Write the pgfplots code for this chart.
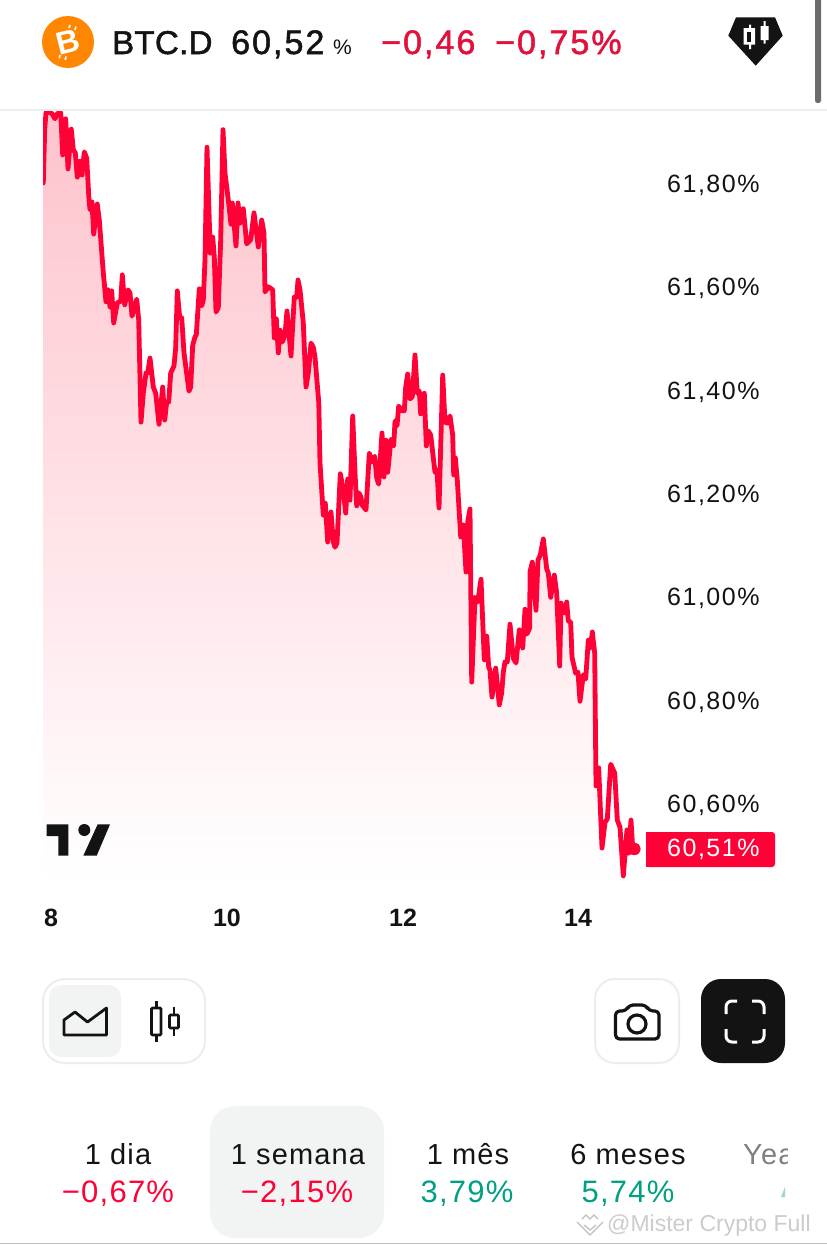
\documentclass[border=0pt]{standalone}
\usepackage{fontspec}
\usepackage{pgfplots}
\usepackage{pgfplotstable}
\pgfplotsset{compat=1.18}
\setmainfont{Liberation Sans}
\newfontfamily\tickfont[LetterSpace=6]{Liberation Sans}
\newfontfamily\bodyfont[LetterSpace=4]{Liberation Sans}
\newfontfamily\medfont[FakeBold=1.5,LetterSpace=1]{Liberation Sans}
\newfontfamily\numfont[FakeBold=1.5,LetterSpace=6]{Liberation Sans}
\newcommand\fs[1]{\fontsize{#1}{#1}\selectfont}
\definecolor{hot}{RGB}{255,0,55}
\definecolor{headred}{RGB}{226,16,60}
\definecolor{teal2}{RGB}{0,160,130}
\definecolor{soft}{RGB}{242,243,243}
\definecolor{edge}{RGB}{237,237,237}
\definecolor{ink}{RGB}{19,19,19}
\pgfplotstableread{
x y
43.3 61.801
44.7 61.904
46 61.937
50 61.937
52 61.935
55 61.925
57.3 61.935
60.7 61.937
62.7 61.855
65.7 61.925
68 61.828
71.3 61.905
73.3 61.865
75.3 61.859
77.3 61.812
80 61.843
82 61.816
84.3 61.861
86.7 61.849
89 61.768
90 61.749
92 61.764
93.7 61.702
97.3 61.760
99.3 61.729
103.3 61.627
106 61.571
108 61.594
110 61.561
111.7 61.592
113.7 61.530
117.3 61.569
120.7 61.572
122.3 61.623
124.7 61.565
128 61.594
130 61.588
132 61.543
136.7 61.576
138.7 61.536
141 61.338
143.3 61.394
146 61.433
147.7 61.433
150 61.462
153.3 61.406
155.7 61.394
159 61.334
162.7 61.406
164.7 61.342
166.7 61.377
168.7 61.377
170.7 61.433
174 61.447
175.7 61.483
177.3 61.592
179.7 61.540
181.7 61.540
184 61.472
189 61.398
190.7 61.406
192.7 61.487
195 61.503
196.3 61.507
199.3 61.596
201.7 61.563
203.3 61.574
205 61.652
207 61.870
210.3 61.665
212.7 61.696
214.3 61.658
216 61.551
218.3 61.559
220.7 61.691
223 61.904
225 61.820
228.3 61.768
231 61.721
232.3 61.762
236 61.679
238 61.762
240 61.723
243.3 61.751
246.7 61.683
250.7 61.691
254 61.743
258.3 61.677
261.7 61.729
264 61.704
265 61.590
268.3 61.600
272.7 61.594
274.3 61.501
276.3 61.538
278.3 61.472
280 61.516
282.3 61.493
285 61.507
287 61.553
291 61.466
294.3 61.580
296.7 61.580
298 61.613
300 61.594
303.3 61.530
306 61.406
308.3 61.433
311 61.491
313.3 61.483
315 61.464
318.8 61.375
320 61.259
323.3 61.158
325.3 61.181
327.7 61.106
331 61.164
333.3 61.106
335 61.096
337 61.104
340.3 61.238
343.3 61.207
345.7 61.162
347.7 61.228
350 61.187
352.7 61.350
355 61.240
356.7 61.176
359 61.201
361 61.193
362 61.178
366 61.168
369.3 61.278
372 61.261
374.7 61.272
376.7 61.230
378.7 61.218
382 61.317
384 61.232
386 61.303
387.7 61.241
391 61.305
393.7 61.292
395 61.340
397 61.331
398.7 61.369
401.7 61.360
404.3 61.360
405.7 61.406
407.7 61.431
410 61.383
412.3 61.387
415 61.468
417.3 61.394
419.3 61.398
420.7 61.354
424.3 61.394
426.3 61.292
428.3 61.321
430.7 61.313
435 61.241
437 61.245
439 61.172
442.7 61.429
445 61.338
447.3 61.336
450 61.350
452.7 61.313
453.7 61.236
455.3 61.269
457.3 61.226
460.7 61.116
463.3 61.139
466 61.048
467.7 61.145
470 61.170
471.7 60.835
475 60.999
477.7 60.990
481 61.034
484.3 60.878
486.7 60.924
488.7 60.864
490 60.858
492 60.806
495.7 60.862
499.3 60.791
501.7 60.814
503.3 60.854
505 60.874
507.3 60.874
510 60.947
513.3 60.881
516 60.872
519.3 60.936
522.7 60.901
525 60.976
527 60.928
529.7 60.940
530 61.048
532.3 61.067
536 60.974
538 61.071
540.3 61.081
543.3 61.112
546.7 61.054
548.3 61.046
550.7 60.999
554.3 61.042
556.7 61.007
559.7 60.866
561 60.988
563.3 60.969
565 60.969
566.7 60.990
568.3 60.953
570.7 60.951
572 60.883
575.7 60.852
578 60.854
580 60.798
583.3 60.849
585.7 60.841
588.3 60.916
590.3 60.901
592.3 60.932
594.7 60.891
596 60.634
598.7 60.669
602 60.514
605 60.564
607.3 60.570
610.7 60.676
614.7 60.659
617.3 60.568
620 60.554
623.3 60.460
627 60.549
628.7 60.504
631 60.568
632.7 60.514
634.3 60.512
}\btcd
\begin{document}
\begin{tikzpicture}
\path[use as bounding box,fill=white] (0pt,0pt) rectangle (827pt,-1245pt);
\begin{axis}[
  at={(43pt,-880pt)},anchor=south west,
  scale only axis,width=602pt,height=770pt,
  xmin=43,xmax=645,ymin=60.452,ymax=61.942,
  axis line style={draw=none},tick style={draw=none},
  major tick length=0pt,
  xtick={51,227,403,578},xticklabels={8,10,12,14},
  xticklabel style={font=\bfseries\fs{25},text=ink,inner sep=0pt,anchor=north,yshift=-29pt},
  ytick={60.6,60.8,61,61.2,61.4,61.6,61.8},
  yticklabel pos=right,
  yticklabel style={font=\tickfont\fs{25},text=ink,inner sep=0pt,anchor=west,xshift=22pt,yshift=-2pt},
  yticklabel={\pgfmathprintnumber{\tick}\%},
  /pgf/number format/.cd,fixed,fixed zerofill,precision=2,use comma,assume math mode=true,
]
\addplot[draw=none,shade,top color={rgb,255:red,254;green,195;blue,204},bottom color=white,shading angle=0] table[x=x,y=y] {\btcd} \closedcycle;
\addplot[hot,line width=4.8pt,line join=round,line cap=round] table[x=x,y=y] {\btcd};
\addplot[only marks,mark=*,mark size=6pt,color=hot] coordinates {(634.3,60.512)};
\end{axis}
\begin{scope}[x=1pt,y=-1pt]
% header
\draw[edge,line width=2pt] (0,110)--(827,110);
\fill[gray!85!black,rounded corners=2.5pt] (815,-4) rectangle (821,103);
\fill[orange!95!yellow] (68,42) circle (26);
\node[rotate=14,text=white,font=\bfseries\fs{32},inner sep=0pt] at (68,42) {B};
\draw[white,line width=1.6pt] (69,28)--(70,25) (75,30)--(76,26.5) (60,55)--(59.3,58.5) (66,56.5)--(65.2,60);
\node[anchor=base west,inner sep=0pt,text=ink,font=\medfont\fs{33}] at (112,54) {BTC.D};
\node[anchor=base west,inner sep=0pt,text=ink,font=\numfont\fs{34}] at (231,54) {60,52};
\node[anchor=base west,inner sep=0pt,text=ink,font=\fs{21}] at (333,54) {\%};
\node[anchor=base west,inner sep=0pt,text=headred,font=\numfont\fs{34}] at (381,54) {−0,46};
\node[anchor=base west,inner sep=0pt,text=headred,font=\numfont\fs{34}] at (495,54) {−0,75\%};
\fill[ink] (736,17.3)--(775,17.3)--(782.7,35.7)--(755.7,65.7)--(728.3,35.7)--cycle;
\fill[white] (749,24.5) rectangle (751,49) (743.5,28) rectangle (755,44.5);
\fill[ink] (746.7,31.7) rectangle (751,41.5);
\fill[white] (763.5,21) rectangle (765.5,43.5) (760.7,26) rectangle (768.7,40);
% price tag
\fill[hot,rounded corners=3pt] (646,832) -- (775,832) -- (775,867) -- (646,867) [sharp corners] -- cycle;
\fill[hot] (646,832) rectangle (660,867);
\node[anchor=west,inner sep=0pt,text=white,font=\tickfont\fs{25}] at (667,849) {60,51\%};
% logo
\fill[ink] (46.7,824.3) -- (68.3,824.3) -- (68.3,855.7) -- (58.3,855.7) -- (58.3,836) -- (46.7,836) -- cycle;
\fill[ink] (84.3,830) circle (6);
\fill[ink] (97.7,824.3) -- (110,824.3) -- (96.7,855.7) -- (83.3,855.7) -- cycle;
% controls
\draw[edge,line width=2pt,rounded corners=22pt] (43,979) rectangle (205,1063);
\fill[soft,rounded corners=12pt] (49,985) rectangle (121,1057);
\draw[ink,line width=2.8pt,line join=round] (64,1020)--(64,1035)--(106.5,1035)--(106.5,1008)--(87.5,1022)--(75,1012)--cycle;
\draw[ink,line width=2.6pt] (156.5,1001)--(156.5,1008) (156.5,1035)--(156.5,1042) (174,1007)--(174,1015) (174,1028)--(174,1036);
\draw[ink,line width=2.6pt,rounded corners=1pt] (151.5,1008) rectangle (161,1035) (169.5,1015) rectangle (178.5,1028);
\draw[edge,line width=2pt,rounded corners=20pt] (595,979) rectangle (679,1063);
\draw[ink,line width=3.2pt,rounded corners=4pt,line join=round] (615.5,1011)--(626,1011)--(629,1005)--(646,1005)--(649,1011)--(659,1011)--(659,1039)--(615.5,1039)--cycle;
\draw[ink,line width=3.2pt] (637,1024) circle (9);
\fill[ink,rounded corners=20pt] (701,979) rectangle (785,1063);
\draw[white,line width=3pt,rounded corners=6pt] (726,1014)--(726,1001)--(737,1001) (752,1001)--(764,1001)--(764,1014) (764,1029)--(764,1042)--(752,1042) (737,1042)--(726,1042)--(726,1029);
% periods
\fill[soft,rounded corners=25pt] (210,1106) rectangle (384,1238);
\node[anchor=base,inner sep=0pt,text=ink,font=\bodyfont\fs{29}] at (118,1164) {1 dia};
\node[anchor=base,inner sep=0pt,text=hot,font=\bodyfont\fs{31}] at (118,1202) {−0,67\%};
\node[anchor=base,inner sep=0pt,text=ink,font=\bodyfont\fs{29}] at (298,1164) {1 semana};
\node[anchor=base,inner sep=0pt,text=hot,font=\bodyfont\fs{31}] at (297,1202) {−2,15\%};
\node[anchor=base,inner sep=0pt,text=ink,font=\bodyfont\fs{29}] at (468,1164) {1 mês};
\node[anchor=base,inner sep=0pt,text=teal2,font=\bodyfont\fs{31}] at (467,1202) {3,79\%};
\node[anchor=base,inner sep=0pt,text=ink,font=\bodyfont\fs{29}] at (628,1164) {6 meses};
\node[anchor=base,inner sep=0pt,text=teal2,font=\bodyfont\fs{31}] at (628,1202) {5,74\%};
\begin{scope}
\clip (730,1120) rectangle (787,1210);
\node[anchor=base west,inner sep=0pt,text=gray,font=\bodyfont\fs{29}] at (743,1164) {Year};
\end{scope}
\fill[teal2!40] (785,1187)--(785,1197)--(781,1197)--cycle;
% watermark
\node[anchor=base west,inner sep=0pt,text=black!20,font=\fs{23}] at (607,1231) {@Mister Crypto Full};
\draw[black!25,line width=1.3pt] (577,1222)--(590,1235)--(603,1222) (582,1219)--(586,1215)--(590,1219)--(594,1215)--(598,1219) (584,1225)--(590,1230)--(596,1225);
\draw[black!25,line width=1.5pt] (0,1243.5)--(827,1243.5);
\end{scope}
\end{tikzpicture}
\end{document}
